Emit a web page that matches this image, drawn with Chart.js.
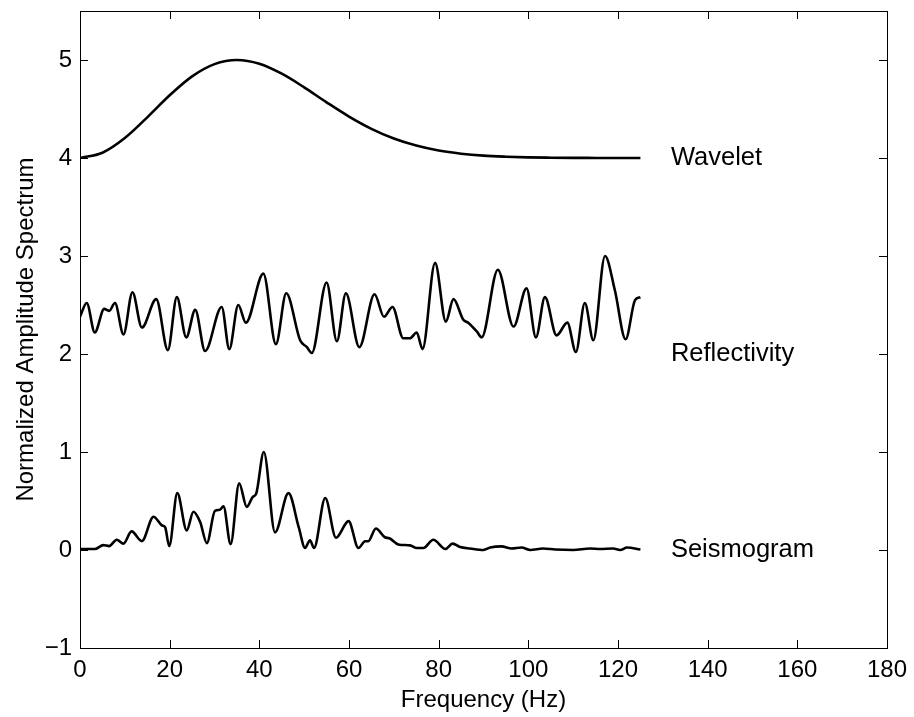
<!DOCTYPE html>
<html>
<head>
<meta charset="utf-8">
<script src="https://cdn.jsdelivr.net/npm/chart.js@4.4.1/dist/chart.umd.min.js"></script>
<style>
html,body{margin:0;padding:0;background:#fff;}
#wrap{width:914px;height:717px;position:relative;}
</style>
</head>
<body>
<div id="wrap"><canvas id="c" width="914" height="717"></canvas></div>
<script>
// ---- data ----
const xTicks = [0, 20, 40, 60, 80, 100, 120, 140, 160, 180];
const yTicks = [-1, 0, 1, 2, 3, 4, 5];

const waveFreq = [0,5,10,15,20,25,30,35,40,45,50,55,60,65,70,75,80,85,90,95,100,105,110,115,120,125];
const waveAmp  = [4.00,4.054,4.204,4.415,4.640,4.833,4.958,5.00,4.962,4.860,4.721,4.568,4.423,4.298,4.199,4.127,4.076,4.044,4.024,4.013,4.006,4.003,4.0014,4.0006,4.0002,4.0001];

const reflFreq = [0,1.5,3.3,5.4,6.5,7.8,9.7,11.7,13.8,17.0,19.6,21.6,23.7,25.7,27.9,31.6,33.3,35.3,37.0,40.9,43.7,46.0,49.1,50.6,51.7,55.0,57.3,59.3,62.3,65.7,67.8,69.7,72.1,73.6,75.1,76.4,79.2,81.6,83.3,85.5,86.6,88.5,89.6,93.2,96.7,99.6,101.7,103.7,106.3,108.7,110.6,112.6,114.5,117.1,119.3,121.7,123.8,125];
const reflAmp  = [2.38,2.52,2.22,2.46,2.44,2.52,2.20,2.63,2.27,2.56,2.04,2.58,2.17,2.45,2.03,2.48,2.05,2.50,2.32,2.82,2.10,2.62,2.14,2.07,2.01,2.73,2.13,2.62,2.07,2.61,2.38,2.48,2.16,2.16,2.22,2.05,2.93,2.33,2.56,2.35,2.32,2.23,2.17,2.86,2.28,2.67,2.17,2.58,2.19,2.32,2.02,2.52,2.14,3.00,2.65,2.15,2.55,2.58];

const seisFreq = [0,3.3,5.2,6.5,8.2,9.7,11.5,13.8,16.4,18.3,19.0,19.9,21.7,23.8,25.3,26.8,28.3,30.1,31.2,32.0,33.6,35.5,37.2,38.5,39.3,41.0,43.5,46.5,48.8,50.2,51.3,52.2,54.7,57.1,59.9,62.1,63.6,64.3,66.0,68.0,69.0,71.0,73.6,75.1,76.6,78.8,81.5,83.1,84.8,87,90,91.5,94,96.3,98.5,100.4,103.3,106,110,113.8,116,118.9,120.5,122,125];
const seisAmp  = [0.01,0.01,0.05,0.04,0.105,0.065,0.19,0.09,0.34,0.25,0.23,0.04,0.58,0.20,0.39,0.285,0.07,0.40,0.41,0.445,0.06,0.68,0.44,0.54,0.575,1.00,0.18,0.58,0.23,0.02,0.10,0.02,0.53,0.125,0.295,0.02,0.09,0.09,0.22,0.13,0.12,0.057,0.047,0.02,0.02,0.105,0.01,0.065,0.03,0.015,0.0,0.025,0.037,0.015,0.025,0.0,0.015,0.005,0.0,0.015,0.01,0.015,0.0,0.025,0.005];

const curveNames = ['Wavelet', 'Reflectivity', 'Seismogram'];
const curveLabelLevel = [4, 2, 0];
const curveLabelFreq = 131.8;

// ---- chart ----
const FONT = '"Liberation Sans", Arial, Helvetica, sans-serif';
const pts = (xs, ys) => xs.map((x, i) => ({x: x, y: ys[i]}));
const lineDs = (name, xs, ys) => ({
  label: name, data: pts(xs, ys), showLine: true, borderColor: '#000',
  borderWidth: 2.6, pointRadius: 0, cubicInterpolationMode: 'monotone', fill: false
});

const framePlugin = {
  id: 'frame',
  afterDraw(chart) {
    const {ctx, chartArea: a, scales: {x, y}} = chart;
    ctx.save();
    ctx.strokeStyle = '#000';
    ctx.lineWidth = 1;
    ctx.strokeRect(Math.round(a.left) + 0.5, Math.round(a.top) + 0.5,
                   Math.round(a.right - a.left), Math.round(a.bottom - a.top));
    const L = 8;
    ctx.beginPath();
    xTicks.forEach(v => {
      const px = Math.round(x.getPixelForValue(v)) + 0.5;
      ctx.moveTo(px, a.bottom); ctx.lineTo(px, a.bottom - L);
      ctx.moveTo(px, a.top); ctx.lineTo(px, a.top + L);
    });
    yTicks.forEach(v => {
      const py = Math.round(y.getPixelForValue(v)) + 0.5;
      ctx.moveTo(a.left, py); ctx.lineTo(a.left + L, py);
      ctx.moveTo(a.right, py); ctx.lineTo(a.right - L, py);
    });
    ctx.stroke();
    ctx.fillStyle = '#000';
    ctx.font = '25.5px ' + FONT;
    ctx.textAlign = 'left';
    ctx.textBaseline = 'middle';
    curveNames.forEach((n, i) => {
      ctx.fillText(n, x.getPixelForValue(curveLabelFreq), y.getPixelForValue(curveLabelLevel[i]));
    });
    ctx.restore();
  }
};

new Chart(document.getElementById('c'), {
  type: 'scatter',
  data: {
    datasets: [
      lineDs('Wavelet', waveFreq, waveAmp),
      lineDs('Reflectivity', reflFreq, reflAmp),
      lineDs('Seismogram', seisFreq, seisAmp)
    ]
  },
  options: {
    responsive: false,
    animation: false,
    layout: {padding: {left: 0, right: 27, top: 11, bottom: 0}},
    plugins: {legend: {display: false}, tooltip: {enabled: false}},
    scales: {
      x: {
        type: 'linear', min: 0, max: 180,
        afterBuildTicks: s => { s.ticks = xTicks.map(v => ({value: v})); },
        afterFit: s => { s.height = 69; s.paddingLeft = 0; s.paddingRight = 0; },
        grid: {display: false, drawTicks: false},
        border: {display: false},
        ticks: {color: '#000', font: {family: FONT, size: 24}, padding: 8, maxRotation: 0, autoSkip: false},
        title: {display: true, text: 'Frequency (Hz)', color: '#000', font: {family: FONT, size: 24}, padding: {top: 0, bottom: 2}}
      },
      y: {
        type: 'linear', min: -1, max: 5.5,
        afterBuildTicks: s => { s.ticks = yTicks.map(v => ({value: v})); },
        afterFit: s => { s.width = 80; s.paddingTop = 0; s.paddingBottom = 0; },
        grid: {display: false, drawTicks: false},
        border: {display: false},
        ticks: {color: '#000', font: {family: FONT, size: 24}, padding: 8,
                callback: v => (v < 0 ? '\u2212' + Math.abs(v) : String(v))},
        title: {display: true, text: 'Normalized Amplitude Spectrum', color: '#000', font: {family: FONT, size: 24}, padding: {top: 12, bottom: 0}}
      }
    }
  },
  plugins: [framePlugin]
});
</script>
</body>
</html>
